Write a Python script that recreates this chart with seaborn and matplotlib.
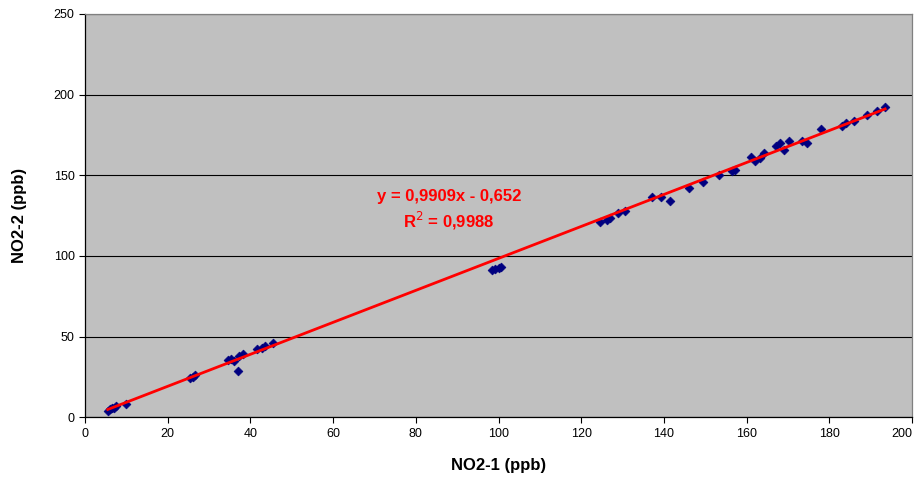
import numpy as np
import pandas as pd
import matplotlib
matplotlib.use("Agg")
import matplotlib.pyplot as plt
import seaborn as sns

# значения
no2_1 = [5.5, 6.0, 6.5, 7.0, 7.5, 10.0,
         25.5, 26.0, 26.5,
         34.5, 35.2, 36.0, 37.1, 37.3, 38.2, 41.5, 42.7, 43.5, 45.5,
         98.5, 99.2, 100.0, 100.7,
         124.5, 126.2, 127.0, 129.0, 130.5,
         137.0, 139.3, 141.5, 146.0, 149.5, 153.2, 156.4, 157.3,
         161.0, 162.0, 163.3, 164.2, 167.0, 168.0, 169.0, 170.2, 173.5, 174.5,
         178.0, 183.0, 184.0, 186.0, 189.0, 191.5, 193.5]
no2_2 = [4.0, 5.0, 5.5, 6.0, 7.0, 8.0,
         24.0, 25.0, 26.0,
         35.5, 36.0, 35.0, 28.7, 38.0, 39.0, 42.0, 43.0, 44.0, 46.0,
         91.0, 91.8, 92.3, 93.0,
         120.8, 122.0, 123.3, 126.8, 128.0,
         136.2, 136.2, 134.0, 142.0, 146.0, 150.0, 152.6, 153.0,
         161.5, 158.8, 160.5, 164.0, 168.0, 170.2, 165.6, 171.2, 171.4, 170.2,
         178.8, 180.5, 182.2, 183.8, 187.3, 190.0, 192.3]

slope = 0.9909
intercept = -0.652
r2 = 0.9988

df = pd.DataFrame({"NO2-1": no2_1, "NO2-2": no2_2})

plt.rcParams['font.family'] = ['Liberation Sans', 'DejaVu Sans']
fig, ax = plt.subplots(figsize=(9.18, 4.79), dpi=100)
fig.subplots_adjust(left=0.0926, right=0.9935, top=0.971, bottom=0.129)

ax.set_facecolor('#C0C0C0')
ax.set_axisbelow(True)
ax.yaxis.grid(True, color='black', linewidth=0.8)
ax.xaxis.grid(False)

# линия тренда
xs = np.array([min(no2_1), max(no2_1)])
sns.lineplot(x=xs, y=slope * xs + intercept, ax=ax, color='#FF0000', linewidth=2, zorder=3)

sns.scatterplot(data=df, x="NO2-1", y="NO2-2", ax=ax, marker='D', s=20,
                color='#000080', edgecolor='#000080', linewidth=0.5, zorder=2)

ax.set_xlim(0, 200)
ax.set_ylim(0, 250)
ax.set_xticks(np.arange(0, 201, 20))
ax.set_yticks(np.arange(0, 251, 50))
ax.tick_params(axis='both', labelsize=9, length=4, width=0.8, color='black', direction='out')
# последняя подпись упирается в край картинки
ax.get_xticklabels()[-1].set_horizontalalignment('right')

for side in ['left', 'bottom']:
    ax.spines[side].set_color('black')
    ax.spines[side].set_linewidth(0.9)
for side in ['top', 'right']:
    ax.spines[side].set_color('#808080')
    ax.spines[side].set_linewidth(0.9)

ax.set_xlabel('NO2-1 (ppb)', fontsize=12, fontweight='bold', labelpad=13)
ax.set_ylabel('NO2-2 (ppb)', fontsize=12, fontweight='bold', labelpad=19)

eq = f"y = {slope:.4f}x - {abs(intercept):.3f}".replace('.', ',')
r2_txt = f"R$^2$ = {r2:.4f}".replace('.', ',')
ax.text(88, 137, eq, color='#FF0000', fontsize=12, fontweight='bold', ha='center', va='center')
ax.text(88, 121.5, r2_txt, color='#FF0000', fontsize=12, fontweight='bold', ha='center', va='center')

plt.savefig('out.png', dpi=100)
